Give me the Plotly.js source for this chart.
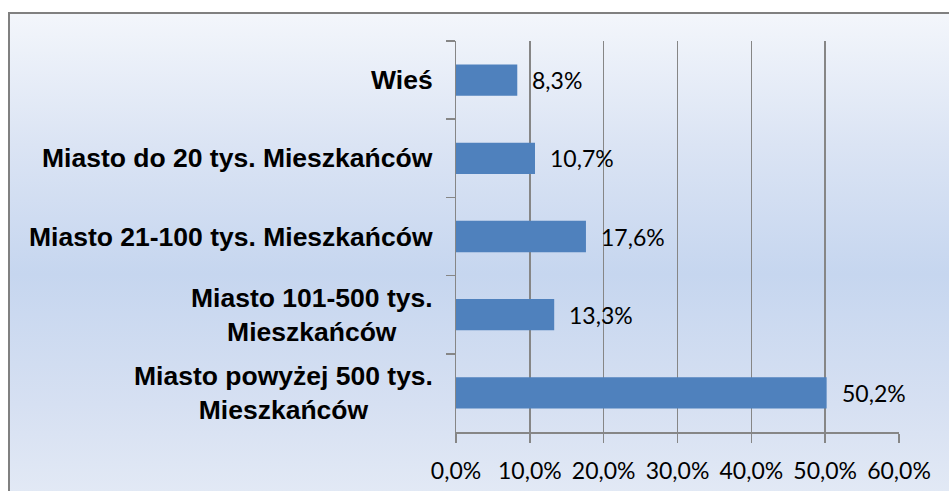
<!DOCTYPE html>
<html>
<head>
<meta charset="utf-8">
<script src="https://cdn.plot.ly/plotly-3.0.1.min.js"></script>
<style>
  html, body { margin: 0; padding: 0; background: #ffffff; }
  #wrap { position: relative; width: 949px; height: 491px; overflow: hidden; }
  #bg {
    position: absolute; left: 8px; top: 12px; width: 1000px; height: 520px;
    border-left: 2px solid #808080; border-top: 2px solid #808080;
    background: linear-gradient(to bottom, #f3f6fb 0%, #dbe4f4 25%, #c6d6ef 50%, #d6e0f2 75%, #e2e9f5 92%);
  }
  #chart { position: absolute; left: 0; top: 0; width: 949px; height: 491px; }
</style>
</head>
<body>
<div id="wrap">
  <div id="bg"></div>
  <div id="chart"></div>
</div>
<script>
const categories = [
  "Wieś",
  "Miasto do 20 tys. Mieszkańców",
  "Miasto 21-100 tys. Mieszkańców",
  "Miasto 101-500 tys.<br>Mieszkańców",
  "Miasto powyżej 500 tys.<br>Mieszkańców"
];
const values = [8.3, 10.7, 17.6, 13.3, 50.2];
const valueLabels = ["8,3%", "10,7%", "17,6%", "13,3%", "50,2%"];
const tickValues = [0, 10, 20, 30, 40, 50, 60];
const tickLabels = ["0,0%", "10,0%", "20,0%", "30,0%", "40,0%", "50,0%", "60,0%"];

const trace = {
  type: "bar",
  orientation: "h",
  x: values,
  y: categories,
  marker: { color: "#4f81bd" },
  hoverinfo: "none"
};

const annotations = [];
categories.forEach((c, i) => {
  annotations.push({
    xref: "x", yref: "y", x: values[i], y: c,
    text: valueLabels[i], showarrow: false,
    xanchor: "left", yanchor: "middle", xshift: 13,
    font: { family: "Lato, 'Open Sans', sans-serif", size: 23, color: "#000000" }
  });
  annotations.push({
    xref: "paper", yref: "y", x: 0, y: c,
    text: c, showarrow: false, align: "center",
    xanchor: "right", yanchor: "middle", xshift: -21,
    font: { family: "'Liberation Sans', Arial, sans-serif", size: 26.5, color: "#000000", weight: "bold" }
  });
});

const layout = {
  width: 949, height: 491,
  margin: { l: 456, r: 50, t: 41, b: 59 },
  paper_bgcolor: "rgba(0,0,0,0)",
  plot_bgcolor: "rgba(0,0,0,0)",
  showlegend: false,
  bargap: 0.6,
  xaxis: {
    range: [0, 60],
    tickvals: tickValues,
    ticktext: tickLabels,
    showgrid: true, gridcolor: "#868686", gridwidth: 1.5,
    zeroline: false,
    showline: true, linecolor: "#868686", linewidth: 1.5,
    ticks: "outside", ticklen: 9, tickcolor: "#868686", tickwidth: 1.5,
    ticklabelstandoff: 9,
    tickfont: { family: "Lato, 'Open Sans', sans-serif", size: 23, color: "#000000" },
    fixedrange: true
  },
  yaxis: {
    type: "category",
    categoryorder: "array",
    categoryarray: categories,
    autorange: "reversed",
    showgrid: false, zeroline: false,
    showline: true, linecolor: "#868686", linewidth: 1.5,
    ticks: "outside", ticklen: 9, tickcolor: "#868686", tickwidth: 1.5,
    tickson: "boundaries",
    showticklabels: false,
    fixedrange: true
  },
  annotations: annotations
};

Plotly.newPlot("chart", [trace], layout, { displayModeBar: false, staticPlot: true });
</script>
</body>
</html>
